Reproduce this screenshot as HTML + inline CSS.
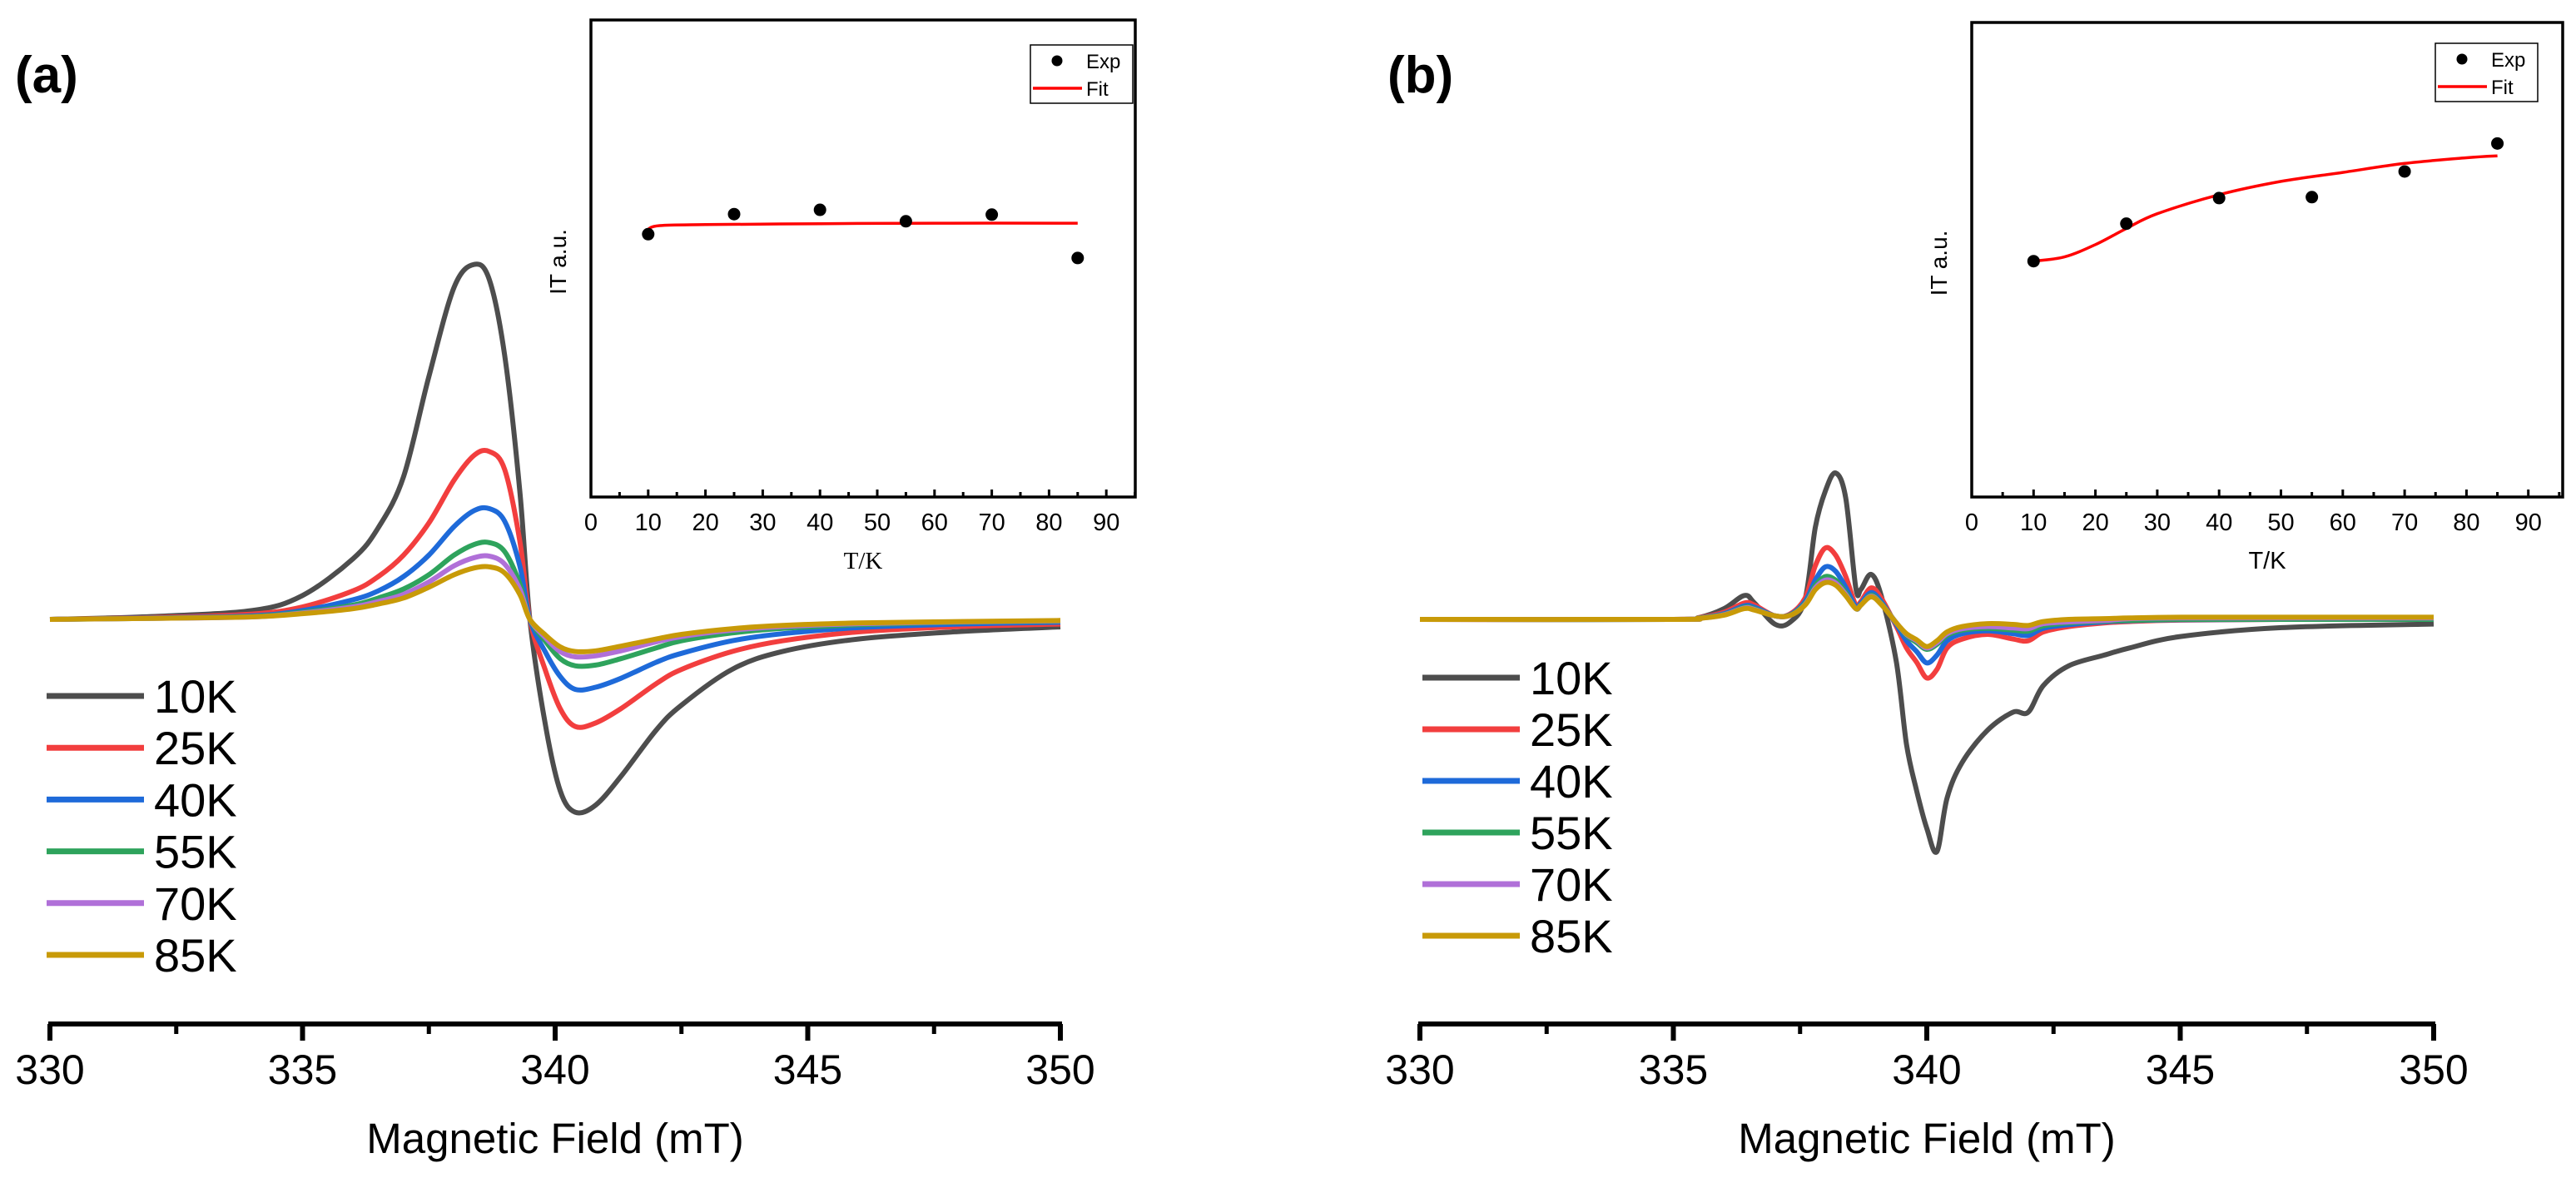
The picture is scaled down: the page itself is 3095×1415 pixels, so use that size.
<!DOCTYPE html>
<html><head><meta charset="utf-8">
<style>
html,body{margin:0;padding:0;background:#fff;}
svg{display:block;font-family:"Liberation Sans",sans-serif;}
</style></head>
<body>
<svg id="fig" width="3095" height="1415" viewBox="0 0 3095 1415" xmlns="http://www.w3.org/2000/svg">
<rect width="3095" height="1415" fill="#fff"/>
<text x="18" y="111" font-size="62" font-weight="bold">(a)</text>
<text x="1667" y="111" font-size="62" font-weight="bold">(b)</text>
<g id="gA"></g>
<g id="gB"></g>
</svg>
<script>
// ---- data ----
const seriesNames = ["10K","25K","40K","55K","70K","85K"];
const seriesColors = ["#4d4d4d","#f23e3e","#1e6ad9","#2ea35c","#b070d8","#c89a08"];
const fieldA = [330,332,334,335,336,336.5,337,337.5,338,338.4,338.7,339,339.3,339.5,339.8,340.1,340.4,340.8,341.3,342,342.5,343.5,344.5,346,348,350];
const a10K = [0,0.8,2.5,6.7,17,25.7,40,68,93,99.4,95,74,36,0,-29,-48,-54,-52,-44,-31,-24,-14,-9,-5.5,-3.4,-2.1];
const a25K = [0,0.5,1.5,3.5,8,12,18,27,39,46,47,42,22,0,-14,-25,-30,-29,-25,-18,-14,-9,-6,-3.5,-2,-1.3];
const a40K = [0,0.4,1,2.5,5.5,8,12,18,26,30.5,31,27.5,15,0,-9,-16,-19.6,-19,-16.5,-12,-9.5,-6,-4,-2.3,-1.3,-0.8];
const a55K = [0,0.3,0.8,2,4,6,8.5,12.5,18,21,21.5,19,10,0,-6,-11,-13,-12.8,-11,-8,-6,-3.8,-2.5,-1.5,-0.8,-0.5];
const a70K = [0,0.3,0.7,1.8,3.5,5,7,10.5,15,17.3,17.7,15.5,8.5,0,-5,-9,-10.5,-10.2,-8.8,-6.3,-4.8,-3,-2,-1.2,-0.7,-0.4];
const a85K = [0,0.3,0.7,1.6,3,4.3,6,9,12.5,14.4,14.7,13,7,0,-4.3,-7.7,-9,-8.8,-7.5,-5.5,-4.2,-2.6,-1.7,-1,-0.6,-0.3];
const fieldB = [330,335,335.5,336,336.4,336.6,337,337.3,337.6,337.8,338,338.2,338.4,338.6,338.7,338.9,339.1,339.4,339.6,339.8,340,340.2,340.4,340.7,341.2,341.7,342,342.3,342.8,343.5,344,345,347,350];
const b10K = [0,0,0.5,3,6.7,4.6,-1.3,-0.8,5.7,25.7,36,41,34,8.8,8.4,12.6,6.7,-12,-35,-48,-58.5,-65,-50,-40,-31,-26,-26,-18.5,-13,-10,-8,-4.8,-2.3,-1.3];
const b25K = [0,0,0.5,2,4.6,4,1,1.5,6,15,20,18,12,4,5,8.8,6,-2,-8,-12,-16.4,-14,-8,-5.5,-4.2,-5.5,-6,-3.5,-2,-1,-0.6,-0.2,0,0];
const b40K = [0,0,0.4,1.6,3.8,3.4,1,1.3,5,11,14.7,13.5,9,3.5,4.5,7.5,5,-1.5,-6,-9,-12.2,-10,-6,-4,-3.2,-4,-4.5,-2.5,-1.5,-0.7,-0.4,-0.1,0,0];
const b55K = [0,0,0.4,1.4,3.4,3,1,1.2,4.5,9.5,12,11,7.5,3,4,6.8,4.5,-1,-4.5,-6.5,-8.4,-7,-4.5,-3,-2.5,-3,-3.3,-1.8,-1,-0.5,-0.3,0,0,0];
const b70K = [0,0,0.3,1.3,3.2,2.8,1,1.1,4.2,8.8,11,10.2,7,3,4,6.5,4.3,-1,-4.2,-6,-8,-6.5,-4,-2.6,-2,-2.4,-2.6,-1.2,-0.7,-0.3,0.2,0.4,0.4,0.4];
const b85K = [0,0,0.3,1.2,3,2.6,1,1.1,4,8.3,10.3,9.6,6.6,3,4,6.3,4.2,-1,-4,-5.7,-7.6,-6,-3.5,-2,-1.2,-1.4,-1.7,-0.6,0,0.2,0.4,0.6,0.6,0.6];
const xTickLabels = ["330","335","340","345","350"];
const xTickValues = [330,335,340,345,350];
const insetTicks = [0,10,20,30,40,50,60,70,80,90];
const insetT = [10,25,40,55,70,85];
const insetAExp = [55.1,59.3,60.2,57.8,59.2,50.1];
const insetAFitT = [10,12,20,40,60,85];
const insetAFit = [56.2,56.9,57.1,57.3,57.4,57.4];
const insetBExp = [49.7,57.6,63.0,63.2,68.6,74.5];
const insetBFitT = [10,15,20,25,30,40,50,60,70,80,85];
const insetBFit = [49.7,50.6,53.2,56.6,59.7,63.7,66.5,68.4,70.3,71.5,71.9];

const NS="http://www.w3.org/2000/svg";
function mk(tag, parent, attrs){const e=document.createElementNS(NS,tag);for(const k in attrs)e.setAttribute(k,attrs[k]);parent.appendChild(e);return e;}
function smooth(pts){
  let d="M"+pts[0][0].toFixed(1)+","+pts[0][1].toFixed(1);
  for(let i=0;i<pts.length-1;i++){
    const p0=pts[Math.max(0,i-1)],p1=pts[i],p2=pts[i+1],p3=pts[Math.min(pts.length-1,i+2)];
    const c1=[p1[0]+(p2[0]-p0[0])/6,p1[1]+(p2[1]-p0[1])/6];
    const c2=[p2[0]-(p3[0]-p1[0])/6,p2[1]-(p3[1]-p1[1])/6];
    d+=" C"+c1[0].toFixed(1)+","+c1[1].toFixed(1)+" "+c2[0].toFixed(1)+","+c2[1].toFixed(1)+" "+p2[0].toFixed(1)+","+p2[1].toFixed(1);
  }
  return d;
}

function mainPanel(g, cfg, field, series, suffix){
  const sx=v=>cfg.x0+(v-330)/20*(cfg.x1-cfg.x0);
  const sy=v=>cfg.base-v*4.29;
  series.forEach((arr,i)=>{
    const pts=field.map((f,j)=>[sx(f),sy(arr[j])]);
    const p=mk("path",g,{d:smooth(pts),fill:"none",stroke:seriesColors[i],"stroke-width":6,"stroke-linejoin":"round"});
    
    
  });
  const ax=mk("line",g,{x1:cfg.x0-2,x2:cfg.x1+2,y1:cfg.axisY,y2:cfg.axisY,stroke:"#000","stroke-width":6});
  
  
  for(let v=330; v<=350; v+=2.5){
    const major = Math.abs(v%5)<0.01;
    const t=mk("line",g,{x1:sx(v),x2:sx(v),y1:cfg.axisY,y2:cfg.axisY+(major?20:12),stroke:"#000","stroke-width":major?6:5});
    
    
  }
  xTickValues.forEach((v,i)=>{
    const t=mk("text",g,{x:sx(v),y:cfg.axisY+72,"font-size":50,"text-anchor":"middle"});
    t.textContent=xTickLabels[i];
    
    
  });
  const tt=mk("text",g,{x:(cfg.x0+cfg.x1)/2,y:cfg.axisY+155,"font-size":51,"text-anchor":"middle"});
  tt.textContent="Magnetic Field (mT)";
  
  
  seriesNames.forEach((n,i)=>{
    const y=cfg.legY+i*cfg.legDy;
    const l=mk("line",g,{x1:cfg.legX,x2:cfg.legX+117,y1:y,y2:y,stroke:seriesColors[i],"stroke-width":7});
    
    
    const t=mk("text",g,{x:cfg.legX+129,y:y+20,"font-size":56});
    t.textContent=n;
    
    
  });
}

function inset(g, c, exp, fitT, fit, serifX, suffix){
  const sx=v=>c.x0+v/10*c.u;
  const sy=v=>c.y1-(v/100)*(c.y1-c.y0)*1.0;
  const fr=mk("rect",g,{x:c.x0,y:c.y0,width:c.xr-c.x0,height:c.y1-c.y0,fill:"none",stroke:"#000","stroke-width":3.5});
  
  
  for(let v=0; v<=95; v+=5){
    const major=v%10===0;
    const t=mk("line",g,{x1:sx(v),x2:sx(v),y1:c.y1,y2:c.y1-(major?9:6),stroke:"#000","stroke-width":3});
    
    
  }
  insetTicks.forEach(v=>{
    const t=mk("text",g,{x:sx(v),y:c.y1+40,"font-size":29,"text-anchor":"middle"});
    t.textContent=String(v);
    
    
  });
  const xt=mk("text",g,{x:(c.x0+c.xr)/2,y:c.y1+86,"font-size":29,"text-anchor":"middle","font-family":serifX?"Liberation Serif, serif":"Liberation Sans, sans-serif"});
  xt.textContent="T/K";
  
  
  const yt=mk("text",g,{x:0,y:0,"font-size":28,"text-anchor":"middle",transform:`translate(${c.x0-30},${(c.y0+c.y1)/2+4}) rotate(-90)`});
  yt.textContent="IT a.u.";
  
  
  const fp=mk("path",g,{d:smooth(fitT.map((t,i)=>[sx(t),sy(fit[i])])),fill:"none",stroke:"#ff0000","stroke-width":3.5});
  
  
  insetT.forEach((t,i)=>{
    const d=mk("circle",g,{cx:sx(t),cy:sy(exp[i]),r:7.5,fill:"#000"});
    
    
  });
  const lb=mk("rect",g,{x:c.lx,y:c.ly,width:123,height:70,fill:"#fff",stroke:"#000","stroke-width":1.5});
  
  
  const ld=mk("circle",g,{cx:c.lx+32,cy:c.ly+19,r:6.5,fill:"#000"});
  
  
  const lt1=mk("text",g,{x:c.lx+67,y:c.ly+28,"font-size":24});
  lt1.textContent="Exp";
  
  
  const ll=mk("line",g,{x1:c.lx+3,x2:c.lx+62,y1:c.ly+52,y2:c.ly+52,stroke:"#ff0000","stroke-width":3.5});
  
  
  const lt2=mk("text",g,{x:c.lx+67,y:c.ly+61,"font-size":24});
  lt2.textContent="Fit";
  
  
}

const gA=document.getElementById("gA"), gB=document.getElementById("gB");
mainPanel(gA,{x0:60,x1:1274,base:744,axisY:1230,legX:56,legY:836,legDy:62.2},fieldA,[a10K,a25K,a40K,a55K,a70K,a85K],"-a");
mainPanel(gB,{x0:1706,x1:2924,base:744,axisY:1230,legX:1709,legY:814,legDy:62},fieldB,[b10K,b25K,b40K,b55K,b70K,b85K],"-b");
inset(gA,{x0:710,xr:1364,y0:24,y1:597,u:68.8,lx:1238,ly:54},insetAExp,insetAFitT,insetAFit,true,"-a");
inset(gB,{x0:2369,xr:3079,y0:27,y1:597,u:74.3,lx:2926,ly:52},insetBExp,insetBFitT,insetBFit,false,"-b");
</script>
</body></html>
